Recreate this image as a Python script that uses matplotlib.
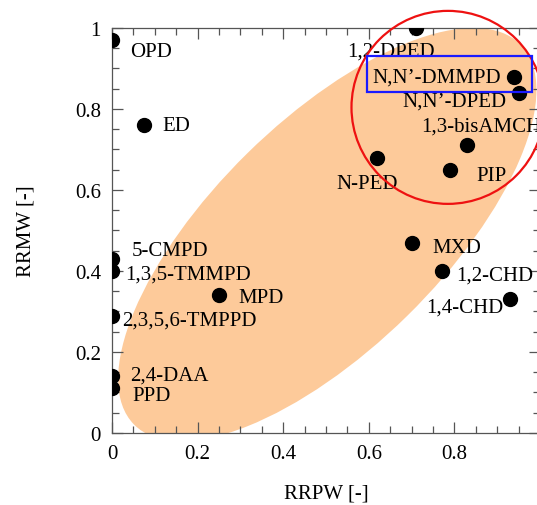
import matplotlib
matplotlib.use('Agg')
import matplotlib.pyplot as plt
from matplotlib.patches import Ellipse, Rectangle, Circle
from matplotlib.ticker import MultipleLocator, FormatStrFormatter
from matplotlib.transforms import Affine2D, ScaledTranslation

# amine data: RRPW (x) vs RRMW (y)
names = ['OPD', 'ED', '1,2-DPED', 'N,N\u2019-DMMPD', 'N,N\u2019-DPED', '1,3-bisAMCH',
         'N-PED', 'PIP', 'MXD', '1,2-CHD', '1,4-CHD', '5-CMPD', '1,3,5-TMMPD',
         'MPD', '2,3,5,6-TMPPD', '2,4-DAA', 'PPD']
rrpw = [0.0, 0.075, 0.71, 0.94, 0.95, 0.83, 0.62, 0.79, 0.70, 0.77, 0.93,
        0.0, 0.0, 0.25, 0.0, 0.0, 0.0]
rrmw = [0.97, 0.76, 1.0, 0.88, 0.84, 0.71, 0.68, 0.65, 0.47, 0.40, 0.33,
        0.43, 0.40, 0.34, 0.29, 0.14, 0.11]

# label offsets in pixels (dx, dy, ha)
offsets = [(18, -11, 'left'), (18, 0, 'left'), (-25, -23, 'center'),
           (-13, 0, 'right'), (-12, -8, 'right'), (-46, 19, 'left'),
           (-10, -26, 'center'), (26, -6, 'left'), (21, -5, 'left'),
           (15, -4, 'left'), (-7, -8, 'right'), (20, 8, 'left'),
           (13, -3, 'left'), (19, -2, 'left'), (10, -5, 'left'),
           (18, 1, 'left'), (20, -7, 'left')]

plt.rcParams['font.family'] = ['Liberation Serif', 'DejaVu Serif']
plt.rcParams['font.size'] = 15

fig = plt.figure(figsize=(5.37, 5.06), dpi=100)
ax = fig.add_axes([0.2086, 0.1423, 0.797, 0.8004])


def px_trans(cx, cy):
    # shape drawn in pixel units, centred on a data point
    return (Affine2D().scale(1 / 100.0) + fig.dpi_scale_trans +
            ScaledTranslation(cx, cy, ax.transData))


# orange region
ell = Ellipse((0, 0), 542, 228, angle=44.5, facecolor='#fdca9a',
              edgecolor='none', zorder=1, transform=px_trans(0.503, 0.49))
ax.add_patch(ell)

ax.scatter(rrpw, rrmw, s=100, color='black', zorder=3)

for n, x, y, (dx, dy, ha) in zip(names, rrpw, rrmw, offsets):
    ax.annotate(n, (x, y), xytext=(dx, dy), textcoords='offset pixels',
                ha=ha, va='center', fontsize=15, zorder=4,
                annotation_clip=False)

# red circle and blue box highlight
circ = Circle((0, 0), 96.5, facecolor='none', edgecolor='#ee1111',
              linewidth=1.6, zorder=5, transform=px_trans(0.785, 0.804))
ax.add_patch(circ)
circ.set_clip_on(False)
rect = Rectangle((0.596, 0.842), 0.386, 0.089, facecolor='none',
                 edgecolor='#1a1aff', linewidth=1.6, zorder=5, clip_on=False)
ax.add_patch(rect)

ax.set_xlim(0, 1)
ax.set_ylim(0, 1)
ax.set_xticks([0, 0.2, 0.4, 0.6, 0.8])
ax.xaxis.set_minor_locator(MultipleLocator(0.05))
ax.yaxis.set_major_locator(MultipleLocator(0.2))
ax.yaxis.set_minor_locator(MultipleLocator(0.05))
ax.xaxis.set_major_formatter(FormatStrFormatter('%g'))
ax.yaxis.set_major_formatter(FormatStrFormatter('%g'))
ax.tick_params(which='both', direction='in', top=True, right=True,
               color='#555555', width=0.9)
ax.tick_params(which='major', length=8, pad=8, labelsize=15)
ax.tick_params(which='minor', length=5)
for sp in ax.spines.values():
    sp.set_color('#555555')
    sp.set_linewidth(0.9)

ax.set_xlabel('RRPW [-]', fontsize=15, labelpad=15)
ax.set_ylabel('RRMW [-]', fontsize=15, labelpad=28)

plt.savefig('out.png', dpi=100)
